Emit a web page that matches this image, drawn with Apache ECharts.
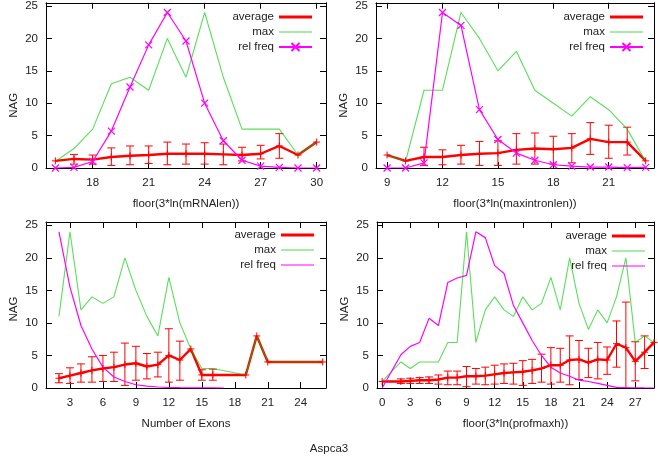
<!DOCTYPE html>
<html><head><meta charset="utf-8">
<script src="https://cdn.jsdelivr.net/npm/echarts@6/dist/echarts.min.js"></script>
<style>html,body{margin:0;padding:0;background:#fff}#c{width:658px;height:459px}</style>
</head><body><div id="c"></div>
<script>
// ---- Panel 1: floor(3*ln(mRNAlen)) ----
const p1X = [16,17,18,19,20,21,22,23,24,25,26,27,28,29,30];
const p1Avg = [1.1,1.4,1.3,1.7,1.9,2.0,2.2,2.2,2.2,2.1,2.0,2.2,3.4,2.0,4.0];
const p1ErrLow = [null,0.6,0.6,0.4,0.5,0.7,0.5,0.6,0.6,0.5,1.1,1.4,1.5,null,null];
const p1ErrHigh = [null,2.1,2.0,3.1,3.4,3.4,4.0,3.7,3.9,3.7,3.2,3.5,5.3,null,null];
const p1Max = [1,3,6,13,14,12,20,14,24,14,6,6,6,2,4];
const p1RelX = p1X;
const p1Rel = [0,0.1,1.0,5.7,12.5,19,24,19.6,10,4.2,1.2,0.3,0.1,0,0];
const p1XTicks = [18,21,24,27,30];

// ---- Panel 2: floor(3*ln(maxintronlen)) ----
const p2X = [9,10,11,12,13,14,15,16,17,18,19,20,21,22,23];
const p2Avg = [2.0,1.1,1.7,1.7,2.0,2.2,2.3,2.8,3.0,2.9,3.1,4.5,4.0,4.0,1.1];
const p2ErrLow = [null,null,0.4,0.5,0.6,0.4,0.4,0.6,0.6,0.6,0.8,2.1,1.5,2.0,null];
const p2ErrHigh = [null,null,3.2,2.8,3.5,4.1,4.2,5.3,5.4,4.9,5.3,7.0,6.6,6.3,null];
const p2Max = [2,1,12,12,24,20,15,18,12,10,8,11,9,6,1];
const p2RelX = p2X;
const p2Rel = [0,0,0.8,24,22,9,4.4,2.3,1.2,0.5,0.3,0.15,0.15,0.05,0.1];
const p2XTicks = [9,12,15,18,21];

// ---- Panel 3: Number of Exons ----
const p3X = [2,3,4,5,6,7,8,9,10,11,12,13,14,15,16,19,20,21,26];
const p3Avg = [1.5,1.9,2.3,2.7,3.0,3.2,3.6,3.8,3.3,3.6,5.0,4.3,6.0,2.0,2.0,2.0,8.0,4.0,4.0];
const p3ErrLow = [0.8,0.7,0.9,0.9,1.0,1.0,0.4,1.2,1.4,1.7,0.9,1.2,null,1.2,1.2,null,null,null,null];
const p3ErrHigh = [2.2,3.1,3.7,4.8,5.0,5.5,6.9,6.4,5.3,5.5,9.1,7.2,null,2.8,2.9,null,null,null,null];
const p3Max = [11,24,12,14,13,14,20,15,11,8,17,10,6,3,3,2,8,4,4];
const p3RelX = [2,3,4,5,6,7,8,9,10,11,12,13,14,15,16,17];
const p3Rel = [24,15.5,9.6,6.0,3.2,1.7,1.0,0.5,0.3,0.15,0.08,0.05,0.03,0.02,0.01,0];
const p3XTicks = [3,6,9,12,15,18,21,24];

// ---- Panel 4: floor(3*ln(profmaxh)) ----
const p4X = [0,2,3,4,5,6,7,8,9,10,11,12,13,14,15,16,17,18,19,20,21,22,23,24,25,26,27,28,29];
const p4Avg = [1.0,1.0,1.1,1.2,1.2,1.3,1.6,1.6,1.8,1.8,1.9,2.1,2.3,2.4,2.5,2.7,3.0,3.5,3.5,4.3,4.4,3.9,4.4,4.3,6.8,6.2,4.1,5.5,7.0];
const p4ErrLow = [null,0.7,0.7,0.7,0.7,0.6,0.5,0.5,0.2,0.6,0.5,0.6,0.7,0.6,0.4,0.7,0.9,0.6,0.9,0.5,1.3,1.6,1.4,2.1,3.2,0,1.1,3.0,null];
const p4ErrHigh = [null,1.4,1.5,1.6,1.7,2.0,2.6,2.6,3.3,3.0,3.2,3.5,3.7,3.8,4.2,4.4,5.2,6.2,6.1,8.0,7.3,6.1,7.0,6.3,10.3,13.2,7.1,8.0,null];
const p4Max = [1,4,3,4,4,4,7,7,24,7,12,14,12,11,14,12,13,17,12,20,13,9,12,10,14,20,7,8,7];
const p4RelX = p4X;
const p4Rel = [0,5.1,6.4,7.0,10.7,9.6,16.2,16.9,17.3,24.0,23.1,18.8,17.6,12.7,10.0,7.3,5.0,3.2,2.3,1.8,1.2,1.0,0.7,0.4,0.1,0.05,0.03,0.01,0];
const p4XTicks = [0,3,6,9,12,15,18,21,24,27];

const yTicks = [0,5,10,15,20,25];
const seriesNames = ['average','max','rel freq'];
const xNames = ['floor(3*ln(mRNAlen))','floor(3*ln(maxintronlen))','Number of Exons','floor(3*ln(profmaxh))'];
const chartTitle = 'Aspca3';

const FONT = 'Liberation Sans';
const FS = 11.5;
const TXT = '#222';
const RED = '#ff0000', GREEN = '#00cc00', MAG = '#ff00ff';
const plusPath = 'path://M5,0V10M0,5H10';
const crossPath = 'path://M0,0L10,10M10,0L0,10';

const panels = [
  {x:p1X, avg:p1Avg, lo:p1ErrLow, hi:p1ErrHigh, max:p1Max, relX:p1RelX, rel:p1Rel, ticks:p1XTicks, xmin:15.5, xmax:30.5,
   grid:{left:46, top:2, width:280, height:166}, legend:{right:345, top:11}, marker:true, nameShift:40},
  {x:p2X, avg:p2Avg, lo:p2ErrLow, hi:p2ErrHigh, max:p2Max, relX:p2RelX, rel:p2Rel, ticks:p2XTicks, xmin:8.4, xmax:23.45,
   grid:{left:376, top:2, width:278, height:166}, legend:{right:14, top:11}, marker:true, nameShift:40},
  {x:p3X, avg:p3Avg, lo:p3ErrLow, hi:p3ErrHigh, max:p3Max, relX:p3RelX, rel:p3Rel, ticks:p3XTicks, xmin:0.82, xmax:26.3,
   grid:{left:46, top:222, width:280, height:166}, legend:{right:344, top:229}, marker:false, nameShift:8},
  {x:p4X, avg:p4Avg, lo:p4ErrLow, hi:p4ErrHigh, max:p4Max, relX:p4RelX, rel:p4Rel, ticks:p4XTicks, xmin:-0.55, xmax:29,
   grid:{left:377, top:222, width:277, height:166}, legend:{right:13, top:230}, marker:false, nameShift:8}
];

const grids = [], xAxes = [], yAxes = [], series = [], legends = [];
const labelStyle = {fontFamily:FONT, fontSize:FS, color:TXT};

panels.forEach((p, i) => {
  grids.push(Object.assign({containLabel:false}, p.grid));
  const axLine = {show:true, onZero:false, lineStyle:{color:'#000', width:1}};
  const tick = {show:true, inside:true, length:6, lineStyle:{color:'#000', width:1}};
  xAxes.push({type:'value', gridIndex:i, position:'bottom', min:p.xmin, max:p.xmax,
    axisLine:axLine, axisTick:Object.assign({customValues:p.ticks}, tick),
    axisLabel:Object.assign({customValues:p.ticks, margin:9}, labelStyle),
    splitLine:{show:false}, name:xNames[i], nameLocation:'middle', nameGap:30, nameTextStyle:labelStyle});
  xAxes.push({type:'value', gridIndex:i, position:'top', min:p.xmin, max:p.xmax,
    axisLine:axLine, axisTick:Object.assign({customValues:p.ticks}, tick),
    axisLabel:{show:false}, splitLine:{show:false}});
  yAxes.push({type:'value', gridIndex:i, position:'left', min:0, max:25.5,
    axisLine:axLine, axisTick:Object.assign({customValues:yTicks}, tick),
    axisLabel:Object.assign({customValues:yTicks, margin:8}, labelStyle),
    splitLine:{show:false}, name:'NAG', nameLocation:'middle', nameGap:26,
    nameTextStyle:Object.assign({padding:[0, p.nameShift, 0, 0]}, labelStyle)});
  yAxes.push({type:'value', gridIndex:i, position:'right', min:0, max:25.5,
    axisLine:axLine, axisTick:Object.assign({customValues:yTicks}, tick),
    axisLabel:{show:false}, splitLine:{show:false}});

  const xi = 2*i, yi = 2*i;
  const errData = [];
  p.x.forEach((xv, k) => { if (p.lo[k] != null) errData.push([xv, p.lo[k], p.hi[k]]); });
  const nm = seriesNames.map(s => s + '#' + i);

  series.push({type:'custom', name:'err'+i, xAxisIndex:xi, yAxisIndex:yi, data:errData, silent:true,
    clip:true,
    renderItem:(params, api) => {
      const xv = api.value(0);
      const a = api.coord([xv, api.value(1)]), b = api.coord([xv, api.value(2)]);
      const w = 4, st = {stroke:RED, lineWidth:1};
      return {type:'group', children:[
        {type:'line', shape:{x1:a[0], y1:a[1], x2:b[0], y2:b[1]}, style:st},
        {type:'line', shape:{x1:a[0]-w, y1:a[1], x2:a[0]+w, y2:a[1]}, style:st},
        {type:'line', shape:{x1:b[0]-w, y1:b[1], x2:b[0]+w, y2:b[1]}, style:st}
      ]};
    }});
  series.push({type:'line', name:nm[0], xAxisIndex:xi, yAxisIndex:yi,
    data:p.x.map((xv,k)=>[xv, p.avg[k]]),
    symbol:plusPath, symbolSize:7, showSymbol:true,
    itemStyle:{color:RED, borderColor:RED, borderWidth:1},
    lineStyle:{color:RED, width:2.4}, emphasis:{disabled:true}});
  series.push({type:'line', name:nm[1], xAxisIndex:xi, yAxisIndex:yi,
    data:p.x.map((xv,k)=>[xv, p.max[k]]),
    symbol:'none', itemStyle:{color:GREEN},
    lineStyle:{color:GREEN, width:1.1, opacity:0.65}, emphasis:{disabled:true}});
  series.push({type:'line', name:nm[2], xAxisIndex:xi, yAxisIndex:yi,
    data:p.relX.map((xv,k)=>[xv, p.rel[k]]),
    symbol:p.marker ? crossPath : 'none', symbolSize:7,
    itemStyle:{color:MAG, borderColor:MAG, borderWidth:1.2},
    lineStyle:{color:MAG, width:1.2}, emphasis:{disabled:true}});

  const flat = {borderWidth:0};
  legends.push({right:p.legend.right, top:p.legend.top, orient:'vertical', align:'right', padding:0,
    itemGap:3, itemWidth:33, itemHeight:10, selectedMode:false,
    textStyle:labelStyle, formatter:n => n.split('#')[0],
    data:[
      {name:nm[0], icon:'path://M0,0H11V1H0Z', itemStyle:flat},
      {name:nm[1], icon:'path://M0,0H33V1H0Z', itemStyle:{borderWidth:0, opacity:0.7}},
      p.marker ? {name:nm[2]} : {name:nm[2], icon:'path://M0,0H27V1H0Z', itemStyle:flat}
    ]});
});

const chart = echarts.init(document.getElementById('c'), null, {renderer:'canvas'});
chart.setOption({
  animation:false,
  backgroundColor:'#fff',
  title:{text:chartTitle, left:'center', top:443, padding:0,
    textStyle:{fontFamily:FONT, fontSize:FS, fontWeight:'normal', color:TXT}},
  grid:grids, xAxis:xAxes, yAxis:yAxes, legend:legends, series:series
});
</script>
</body></html>
